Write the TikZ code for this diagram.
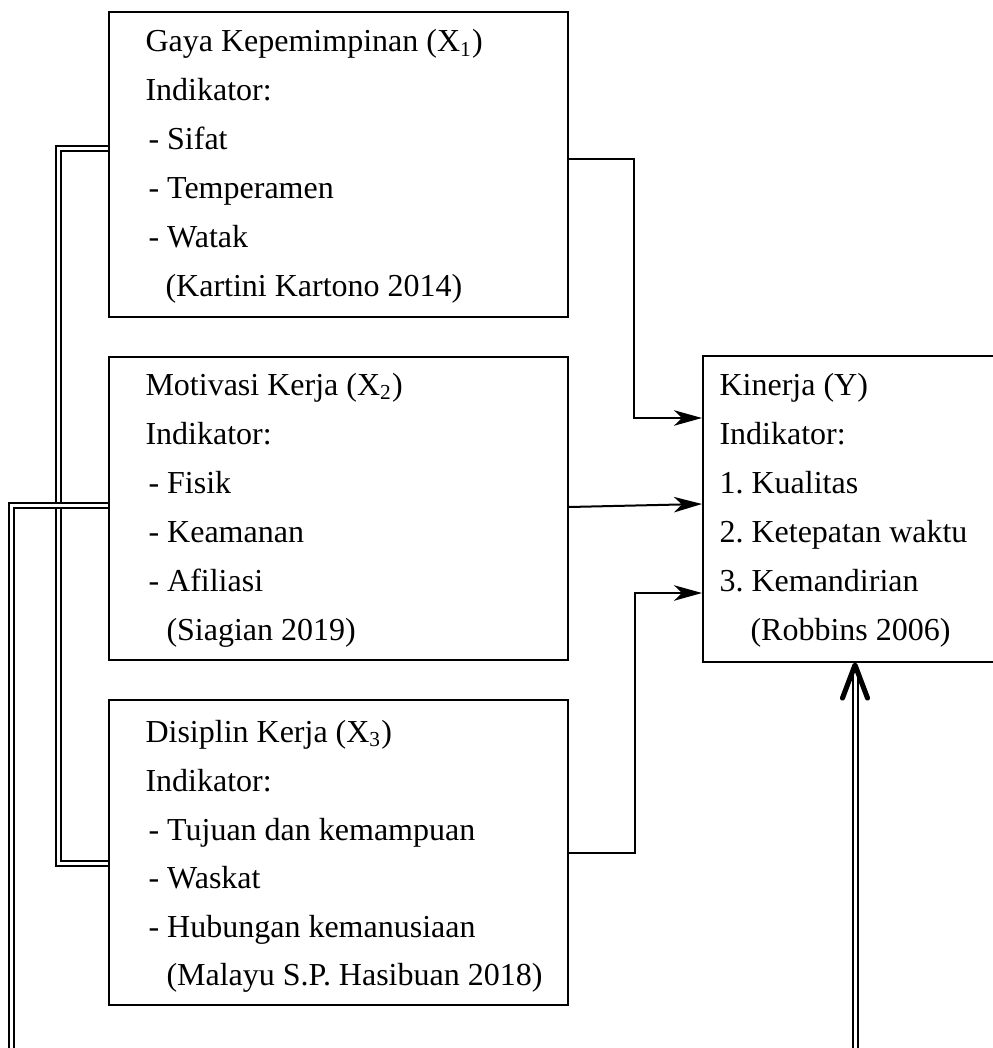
\documentclass[tikz,border=0pt]{standalone}
\usepackage{fontspec}
\setmainfont{Liberation Serif}
\usetikzlibrary{arrows.meta,calc,fit}
\begin{document}
\frenchspacing
\begin{tikzpicture}[x=0.375pt,y=-0.375pt,
  box/.style={draw, line width=0.75pt, inner sep=0pt},
  txt/.style={anchor=base west, inner sep=0pt, font=\fontsize{12pt}{14pt}\selectfont\frenchspacing},
  arr/.style={line width=0.75pt, -{Stealth[length=10.5pt,width=5.8pt,inset=3pt]}},
  dbl/.style={double, line width=0.75pt, double distance=1.125pt},
  chev/.style={line width=1.9pt, line cap=round, line join=round}]
\clip (0,0) rectangle (993,1048);
\fill[white] (0,0) rectangle (993,1048);
% boxes
\node[box, fit={(109,12) (568,317)}] (x1) {};
\node[box, fit={(109,357) (568,660)}] (x2) {};
\node[box, fit={(109,700) (568,1005)}] (x3) {};
\node[box, fit={(703,356) (1020,662)}] (y) {};
% texts X1
\node[txt] (t11) at (145,52) {Gaya Kepemimpinan (X\textsubscript{1})};
\node[txt] (t12) at (145,101) {Indikator:};
\node[txt] (t13) at (148,150) {- Sifat};
\node[txt] (t14) at (148,199) {- Temperamen};
\node[txt] (t15) at (148,248) {- Watak};
\node[txt] (t16) at (165,297) {(Kartini Kartono 2014)};
% texts X2
\node[txt] (t21) at (145,395) {Motivasi Kerja (X\textsubscript{2})};
\node[txt] (t22) at (145,444) {Indikator:};
\node[txt] (t23) at (148,493) {- Fisik};
\node[txt] (t24) at (148,542) {- Keamanan};
\node[txt] (t25) at (148,591) {- Afiliasi};
\node[txt] (t26) at (166,640) {(Siagian 2019)};
% texts X3
\node[txt] (t31) at (145,742) {Disiplin Kerja (X\textsubscript{3})};
\node[txt] (t32) at (145,791) {Indikator:};
\node[txt] (t33) at (148,840) {- Tujuan dan kemampuan};
\node[txt] (t34) at (148,888) {- Waskat};
\node[txt] (t35) at (148,937) {- Hubungan kemanusiaan};
\node[txt] (t36) at (166,985) {(Malayu S.P. Hasibuan 2018)};
% texts Y
\node[txt] (ty1) at (719,395) {Kinerja (Y)};
\node[txt] (ty2) at (719,444) {Indikator:};
\node[txt] (ty3) at (719,493) {1. Kualitas};
\node[txt] (ty4) at (719,542) {2. Ketepatan waktu};
\node[txt] (ty5) at (719,591) {3. Kemandirian};
\node[txt] (ty6) at (750,640) {(Robbins 2006)};
% single arrows
\draw[arr] (x1.east |- 0,159) -| (634,418) -- (y.west |- 0,418);
\draw[arr] (x2.east |- 0,507) -- (y.west |- 0,504);
\draw[arr] (x3.east |- 0,853) -| (635,593) -- (y.west |- 0,593);
% double lines
\draw[dbl] (x1.west |- 0,149) -| (58.5,863) -- (x3.west |- 0,863);
\coordinate (b2) at (11.5,1070);
\draw[dbl] (x2.west |- 0,505.5) -| (b2);
\coordinate (b3) at (855,1070);
\coordinate (tip) at (y.south -| b3);
\draw[dbl] (b3) -- ($(tip)+(0,6)$);
\draw[chev] ($(tip)+(-12.5,35)$) -- ($(tip)+(0,2)$) -- ($(tip)+(12.5,35)$);
\end{tikzpicture}
\end{document}
